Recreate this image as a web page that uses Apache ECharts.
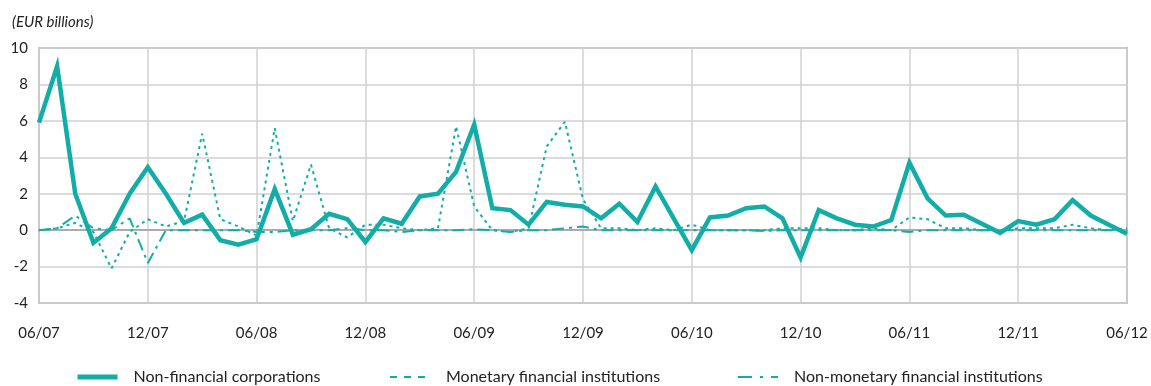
<!DOCTYPE html>
<html>
<head>
<meta charset="utf-8">
<script src="https://cdn.jsdelivr.net/npm/echarts@6/dist/echarts.min.js"></script>
<style>
  html, body { margin: 0; padding: 0; background: #fff; }
  #chart { width: 1151px; height: 386px; }
</style>
</head>
<body>
<div id="chart"></div>
<script>
// Monthly months, June 2007 to June 2012
const months = [
  '06/07','07/07','08/07','09/07','10/07','11/07','12/07','01/08','02/08','03/08','04/08','05/08',
  '06/08','07/08','08/08','09/08','10/08','11/08','12/08','01/09','02/09','03/09','04/09','05/09',
  '06/09','07/09','08/09','09/09','10/09','11/09','12/09','01/10','02/10','03/10','04/10','05/10',
  '06/10','07/10','08/10','09/10','10/10','11/10','12/10','01/11','02/11','03/11','04/11','05/11',
  '06/11','07/11','08/11','09/11','10/11','11/11','12/11','01/12','02/12','03/12','04/12','05/12',
  '06/12'
];

// EUR billions
const nonFinancialCorporations = [
  5.9, 9.0, 2.0, -0.7, 0.1, 2.0, 3.45, 2.0, 0.4, 0.85, -0.55, -0.8,
  -0.5, 2.25, -0.25, 0.05, 0.9, 0.6, -0.65, 0.65, 0.35, 1.85, 2.0, 3.2,
  5.8, 1.2, 1.1, 0.3, 1.55, 1.4, 1.3, 0.65, 1.45, 0.45, 2.4, 0.65,
  -1.1, 0.7, 0.8, 1.2, 1.3, 0.65, -1.5, 1.1, 0.65, 0.3, 0.2, 0.55,
  3.7, 1.75, 0.8, 0.85, 0.35, -0.15, 0.5, 0.3, 0.6, 1.65, 0.8, 0.3,
  -0.2
];

const monetaryFinancialInstitutions = [
  0.0, 0.1, 0.4, -0.1, -2.1, -0.1, 0.6, 0.2, 0.5, 5.3, 0.6, 0.2,
  -0.3, 5.6, 0.5, 3.6, 0.1, -0.4, 0.3, 0.3, 0.1, 0.0, 0.1, 5.7,
  1.3, 0.0, -0.1, 0.1, 4.6, 5.95, 1.7, 0.1, 0.1, 0.0, 0.1, 0.0,
  0.3, 0.0, 0.0, 0.0, 0.0, 0.1, 0.1, 0.1, 0.0, 0.0, 0.1, 0.0,
  0.7, 0.6, 0.1, 0.1, 0.0, 0.0, 0.1, 0.1, 0.1, 0.3, 0.1, 0.0,
  0.1
];

const nonMonetaryFinancialInstitutions = [
  0.0, 0.1, 0.8, 0.1, 0.0, 0.65, -1.8, 0.0, 0.0, 0.0, 0.0, 0.0,
  -0.1, -0.1, 0.0, 0.0, 0.0, 0.1, 0.0, 0.0, -0.1, 0.0, 0.0, 0.0,
  0.05, 0.0, -0.1, 0.0, 0.0, 0.1, 0.2, 0.0, 0.0, 0.0, 0.0, 0.0,
  0.0, 0.0, 0.0, 0.0, -0.05, 0.0, 0.0, 0.0, 0.0, 0.0, 0.0, 0.0,
  -0.1, 0.0, 0.0, 0.0, 0.0, 0.0, 0.0, 0.0, 0.0, 0.0, 0.0, 0.0,
  0.0
];

const seriesNames = [
  'Non-financial corporations',
  'Monetary financial institutions',
  'Non-monetary financial institutions'
];

const yTicks = { min: -4, max: 10, interval: 2 };

const teal = '#13ADA7';
const fontFamily = 'Lato, "DejaVu Sans", sans-serif';
const everySixth = (index) => index % 6 === 0;

const legendText = { color: '#222', fontSize: 16, fontFamily: fontFamily, padding: [0, 0, 0, 11] };
const hiddenSymbol = { color: 'rgba(0,0,0,0)', borderWidth: 0, opacity: 0 };

const chart = echarts.init(document.getElementById('chart'), null, { renderer: 'canvas' });

chart.setOption({
  animation: false,
  backgroundColor: '#fff',
  title: {
    text: '(EUR billions)',
    left: 7,
    top: 10,
    textStyle: { fontSize: 15, fontStyle: 'italic', fontWeight: 'normal', color: '#222', fontFamily: fontFamily }
  },
  grid: {
    left: 39, right: 24, top: 48, bottom: 83,
    show: true, borderColor: '#b8b8b8', borderWidth: 2, backgroundColor: '#fff'
  },
  legend: [
    {
      left: 70, top: 364, itemWidth: 40, itemHeight: 14, textStyle: legendText,
      itemStyle: hiddenSymbol,
      data: [{ name: seriesNames[0], lineStyle: { width: 5 } }]
    },
    {
      left: 384, top: 364, itemWidth: 40, itemHeight: 14, textStyle: legendText,
      itemStyle: hiddenSymbol,
      data: [{ name: seriesNames[1], lineStyle: { type: [7, 7], width: 2 } }]
    },
    {
      left: 732, top: 364, itemWidth: 40, itemHeight: 14, textStyle: legendText,
      itemStyle: hiddenSymbol,
      data: [{ name: seriesNames[2], lineStyle: { type: [14, 8, 3, 8], width: 2 } }]
    }
  ],
  xAxis: [
    {
      type: 'category',
      data: months,
      boundaryGap: false,
      axisLine: { show: false, onZero: false },
      axisTick: { show: false },
      axisLabel: {
        interval: everySixth,
        margin: 23,
        color: '#222',
        fontSize: 15,
        fontFamily: fontFamily
      },
      splitLine: { show: true, interval: everySixth, lineStyle: { color: '#d0d0d0', width: 1.5 } }
    },
    {
      // zero line
      type: 'category',
      data: months,
      boundaryGap: false,
      position: 'bottom',
      axisLine: { show: true, onZero: true, lineStyle: { color: '#ababab', width: 2 } },
      axisTick: { show: false },
      axisLabel: { show: false },
      splitLine: { show: false }
    }
  ],
  yAxis: {
    type: 'value',
    min: yTicks.min,
    max: yTicks.max,
    interval: yTicks.interval,
    axisLine: { show: false },
    axisTick: { show: false },
    axisLabel: { color: '#222', fontSize: 15, margin: 11, fontFamily: fontFamily },
    splitLine: { show: true, lineStyle: { color: '#d0d0d0', width: 1.5 } }
  },
  series: [
    {
      name: seriesNames[1],
      type: 'line',
      data: monetaryFinancialInstitutions,
      symbol: 'none',
      lineStyle: { color: teal, width: 2, type: [3, 4] },
      itemStyle: { color: teal },
      z: 2
    },
    {
      name: seriesNames[2],
      type: 'line',
      data: nonMonetaryFinancialInstitutions,
      symbol: 'none',
      lineStyle: { color: teal, width: 2, type: [12, 5, 3, 5] },
      itemStyle: { color: teal },
      z: 3
    },
    {
      name: seriesNames[0],
      type: 'line',
      data: nonFinancialCorporations,
      symbol: 'none',
      lineStyle: { color: teal, width: 4.5, join: 'miter' },
      itemStyle: { color: teal },
      z: 4
    }
  ]
});
</script>
</body>
</html>
